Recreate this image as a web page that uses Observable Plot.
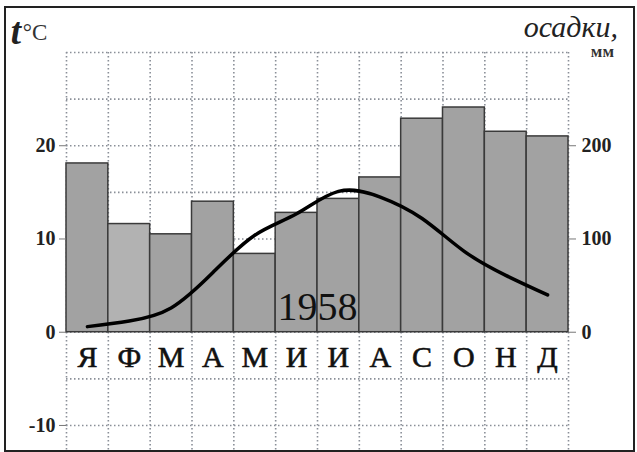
<!DOCTYPE html>
<html><head><meta charset="utf-8">
<script src="https://cdn.jsdelivr.net/npm/d3@7"></script>
<script src="https://cdn.jsdelivr.net/npm/@observablehq/plot@0.6"></script>
<style>
body{margin:0;background:#fff;}
#wrap{position:relative;width:637px;height:452px;overflow:hidden;background:#fff;}
#frame{position:absolute;left:4px;top:6px;width:627px;height:442px;border:2px solid #222;pointer-events:none;}
</style></head><body>
<div id="wrap"><div id="chart"></div><div id="frame"></div></div>
<script>
const months = ["Я","Ф","М","А","М","И","И","А","С","О","Н","Д"];
const temperature = [0.6, 1.2, 2.6, 6.4, 10.4, 12.7, 15.1, 14.5, 12.2, 8.7, 6.1, 4.0];
const precipitation = [181, 116, 105, 140, 84, 128, 143, 166, 229, 241, 215, 210];
const tempTicks = [-10, 0, 10, 20];
const precipTicks = [0, 100, 200];
const gridLevels = [-10, -5, 0, 5, 10, 15, 20, 25, 30];
const year = "1958";
const mmPerDegree = 10;

const data = months.map((m, i) => ({i, month: m, t: temperature[i], p: precipitation[i]}));
const serif = "'Liberation Serif', 'Times New Roman', serif";
const gridStyle = {stroke: "#8a8f98", strokeWidth: 1.6, strokeDasharray: "1.5,2.5"};

const plot = Plot.plot({
  width: 637, height: 452,
  marginLeft: 66, marginRight: 69, marginTop: 52, marginBottom: 0,
  style: {fontFamily: serif, background: "transparent", color: "#222", overflow: "visible"},
  x: {domain: [0, months.length], axis: null, label: null},
  y: {domain: [-12.9, 30], axis: null, label: null},
  marks: [
    Plot.ruleY(gridLevels, gridStyle),
    Plot.ruleX(d3.range(months.length + 1), gridStyle),
    Plot.rect(data, {x1: "i", x2: d => d.i + 1, y1: 0, y2: d => d.p / mmPerDegree,
      fill: d => d.i === 1 ? "#b2b2b2" : "#a2a2a2", stroke: "#3a3a3a", strokeWidth: 1.5}),
    Plot.line(data, {x: d => d.i + 0.5, y: "t", stroke: "#000", strokeWidth: 3.5, curve: "natural"}),
    Plot.text(data, {x: d => d.i + 0.5, y: -2.7, text: "month", fontSize: 30, fill: "#111",
      stroke: "#111", strokeWidth: 0.6}),
    Plot.text([year], {x: 6, y: 1.3, text: d => d, fontSize: 40, lineAnchor: "bottom", fill: "#111"}),
    Plot.axisY(tempTicks, {anchor: "left", label: null, tickSize: 7, tickPadding: 4, fontSize: 20, fontWeight: "bold",
      stroke: "#777", tickFormat: d => String(d)}),
    Plot.axisY(precipTicks.map(v => v / mmPerDegree), {anchor: "right", label: null, tickSize: 7, tickPadding: 6, fontSize: 20,
      fontWeight: "bold", stroke: "#777", tickFormat: d => String(Math.round(d * mmPerDegree))})
  ]
});
document.getElementById("chart").appendChild(plot);

const svg = d3.select(plot);
svg.append("text").attr("x", 16).attr("y", 44).attr("font-family", serif)
  .attr("font-size", 37).attr("font-weight", "bold").attr("font-style", "italic").attr("fill", "#222").text("t");
svg.append("text").attr("x", 35).attr("y", 40).attr("font-family", serif)
  .attr("font-size", 23).attr("fill", "#333").text("°C");
svg.append("text").attr("x", 618).attr("y", 37).attr("text-anchor", "end").attr("font-family", serif)
  .attr("font-size", 30).attr("font-style", "italic").attr("fill", "#222").text("осадки,");
svg.append("text").attr("x", 614).attr("y", 57).attr("text-anchor", "end").attr("font-family", serif)
  .attr("font-size", 17).attr("font-weight", "bold").attr("fill", "#333").text("мм");
</script>
</body></html>
